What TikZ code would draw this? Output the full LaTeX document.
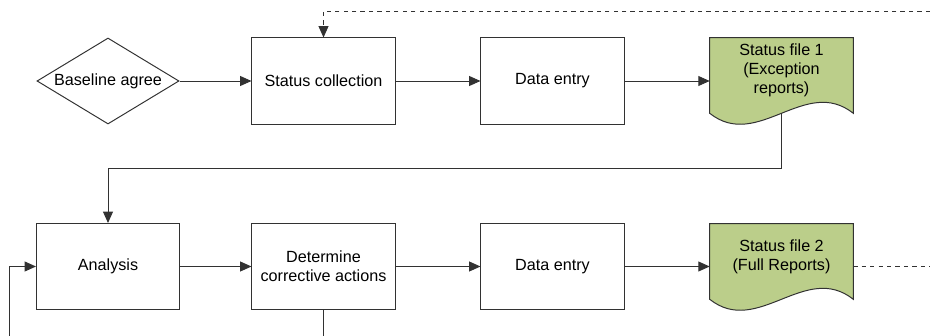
\documentclass[tikz,border=0pt]{standalone}
\usepackage{fontspec}
\setmainfont{Liberation Sans}
\usetikzlibrary{shapes.geometric, arrows.meta, calc}
\definecolor{docgreen}{RGB}{187,206,138}
\definecolor{linegray}{RGB}{50,50,50}
\tikzset{
	procbox/.style={draw=linegray, line width=0.7pt, rectangle, minimum width=3.575cm, minimum height=2.15cm, align=center},
	decbox/.style={draw=linegray, line width=0.7pt, diamond, aspect=1.65, inner sep=0pt, minimum width=3.55cm, minimum height=2.15cm},
	filebox/.style={rectangle, minimum width=3.575cm, minimum height=1.625cm, align=center},
	flow/.style={line width=0.7pt, draw=linegray, -{Triangle[length=8pt, width=7pt]}}
}
% document shape drawn around a filebox node
\newcommand{\docfile}[1]{%
	\filldraw[fill=docgreen, draw=linegray, line width=0.7pt] (#1.north west) -- (#1.north east) -- ($(#1.south east)+(0,10)$)
		.. controls +(-48,-38) and +(48,38) .. ($(#1.south west)+(0,10)$) -- cycle;}

\begin{document}
\begin{tikzpicture}[x=0.025cm, y=-0.025cm, font=\fontsize{11.5}{13.5}\selectfont]
	\useasboundingbox (0,0) rectangle (930,336);
	
	% first row
	\node[decbox] (base) at (108,81) {Baseline agree};
	\node[procbox] (coll) at (323.5,81) {Status collection};
	\node[procbox] (entry1) at (552.5,81) {Data entry};
	\node[filebox] (file1) at (781.5,70.5) {};
	\docfile{file1}
	\node[filebox] at (file1) {Status file 1\\(Exception\\reports)};
	
	% second row
	\node[procbox] (anal) at (108,266.5) {Analysis};
	\node[procbox] (corr) at (323.5,266.5) {Determine\\corrective actions};
	\node[procbox] (entry2) at (552.5,266.5) {Data entry};
	\node[filebox] (file2) at (781.5,256.5) {};
	\docfile{file2}
	\node[filebox] at (file2) {Status file 2\\(Full Reports)};
	
	\coordinate (file1b) at ($(file1.south)+(0,10)$);
	\coordinate (feedback) at (930,11);
	\coordinate (loopin) at (9,336);
	\coordinate (rightend) at (930,266.5);
	
	% arrows
	\draw[flow] (base) -- (coll);
	\draw[flow] (coll) -- (entry1);
	\draw[flow] (entry1.east) -- (entry1.east -| file1.west);
	\draw[flow] (file1b) -- ++(0,55) -| (anal.north);
	\draw[flow] (anal) -- (corr);
	\draw[flow] (corr) -- (entry2);
	\draw[flow] (entry2.east) -- (entry2.east -| file2.west);
	\draw[flow] (loopin) |- (anal.west);
	\draw[line width=0.7pt, draw=linegray] (corr.south) -- (corr.south |- loopin);
	
	% dashed links
	\draw[flow, dashed] (feedback) -| (coll.north);
	\draw[line width=0.7pt, draw=linegray, dashed] (file2.east |- rightend) -- (rightend);
\end{tikzpicture}
\end{document}
